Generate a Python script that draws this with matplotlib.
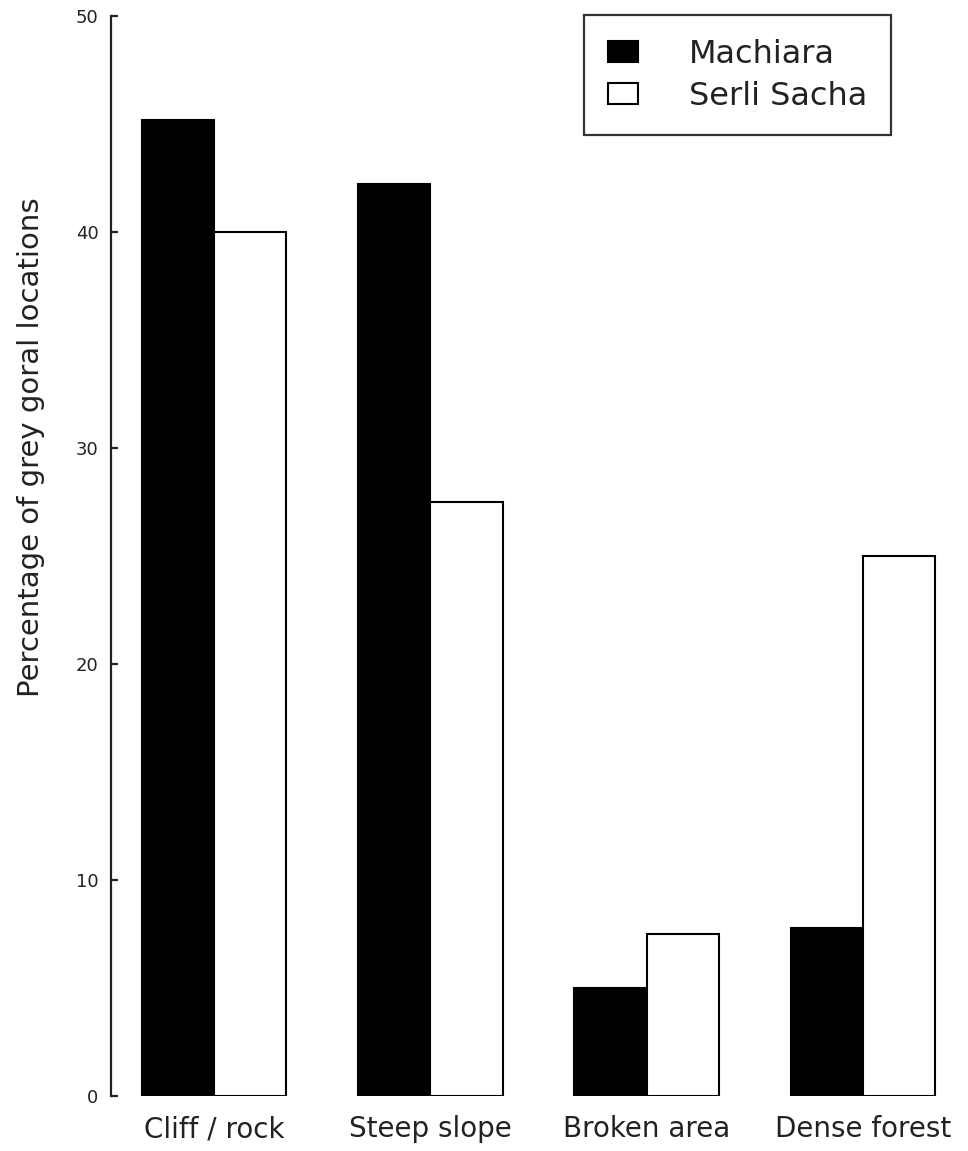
import matplotlib
matplotlib.use("Agg")
import matplotlib.pyplot as plt
import numpy as np

categories = ["Cliff / rock", "Steep slope", "Broken area", "Dense forest"]
machiara = [45.2, 42.2, 5.0, 7.8]
serli_sacha = [40.0, 27.5, 7.5, 25.0]
series_names = ["Machiara", "Serli Sacha"]
yticks = [0, 10, 20, 30, 40, 50]

plt.rcParams["font.family"] = ["DejaVu Sans"]

fig = plt.figure(figsize=(9.68, 11.51), dpi=100)
ax = fig.add_axes([0.1147, 0.0478, 0.8853, 0.9383])

x = np.arange(len(categories))
w = 0.334
ax.bar(x - w / 2, machiara, width=w, color="black", edgecolor="black",
       linewidth=1.5, label=series_names[0])
ax.bar(x + w / 2, serli_sacha, width=w, color="white", edgecolor="black",
       linewidth=1.5, label=series_names[1])

ax.set_xlim(-0.476, 3.486)
ax.set_ylim(0, 50)
ax.set_yticks(yticks)
ax.set_xticks(x)
ax.set_xticklabels(categories, fontsize=20, color="#222222")

for side in ["top", "right", "bottom"]:
    ax.spines[side].set_visible(False)
ax.spines["left"].set_linewidth(1.6)
ax.spines["left"].set_color("#222222")

ax.tick_params(axis="y", direction="in", length=5, width=1.6, pad=9,
               labelsize=13, colors="#222222")
ax.tick_params(axis="x", length=0, pad=14)

ax.set_ylabel("Percentage of grey goral locations", fontsize=21, color="#222222")
ax.yaxis.set_label_coords(-0.077, 0.601)

leg = ax.legend(loc="upper right", bbox_to_anchor=(891 / 968, 1 - 15 / 1151),
                bbox_transform=fig.transFigure, borderaxespad=0,
                fontsize=23, frameon=True, fancybox=False,
                handlelength=0.92, handleheight=0.62, handletextpad=1.6,
                borderpad=0.75, labelspacing=0.33)
leg.get_frame().set_edgecolor("black")
leg.get_frame().set_linewidth(1.6)
for t in leg.get_texts():
    t.set_color("#222222")

fig.savefig("out.png", dpi=100, facecolor="white")
